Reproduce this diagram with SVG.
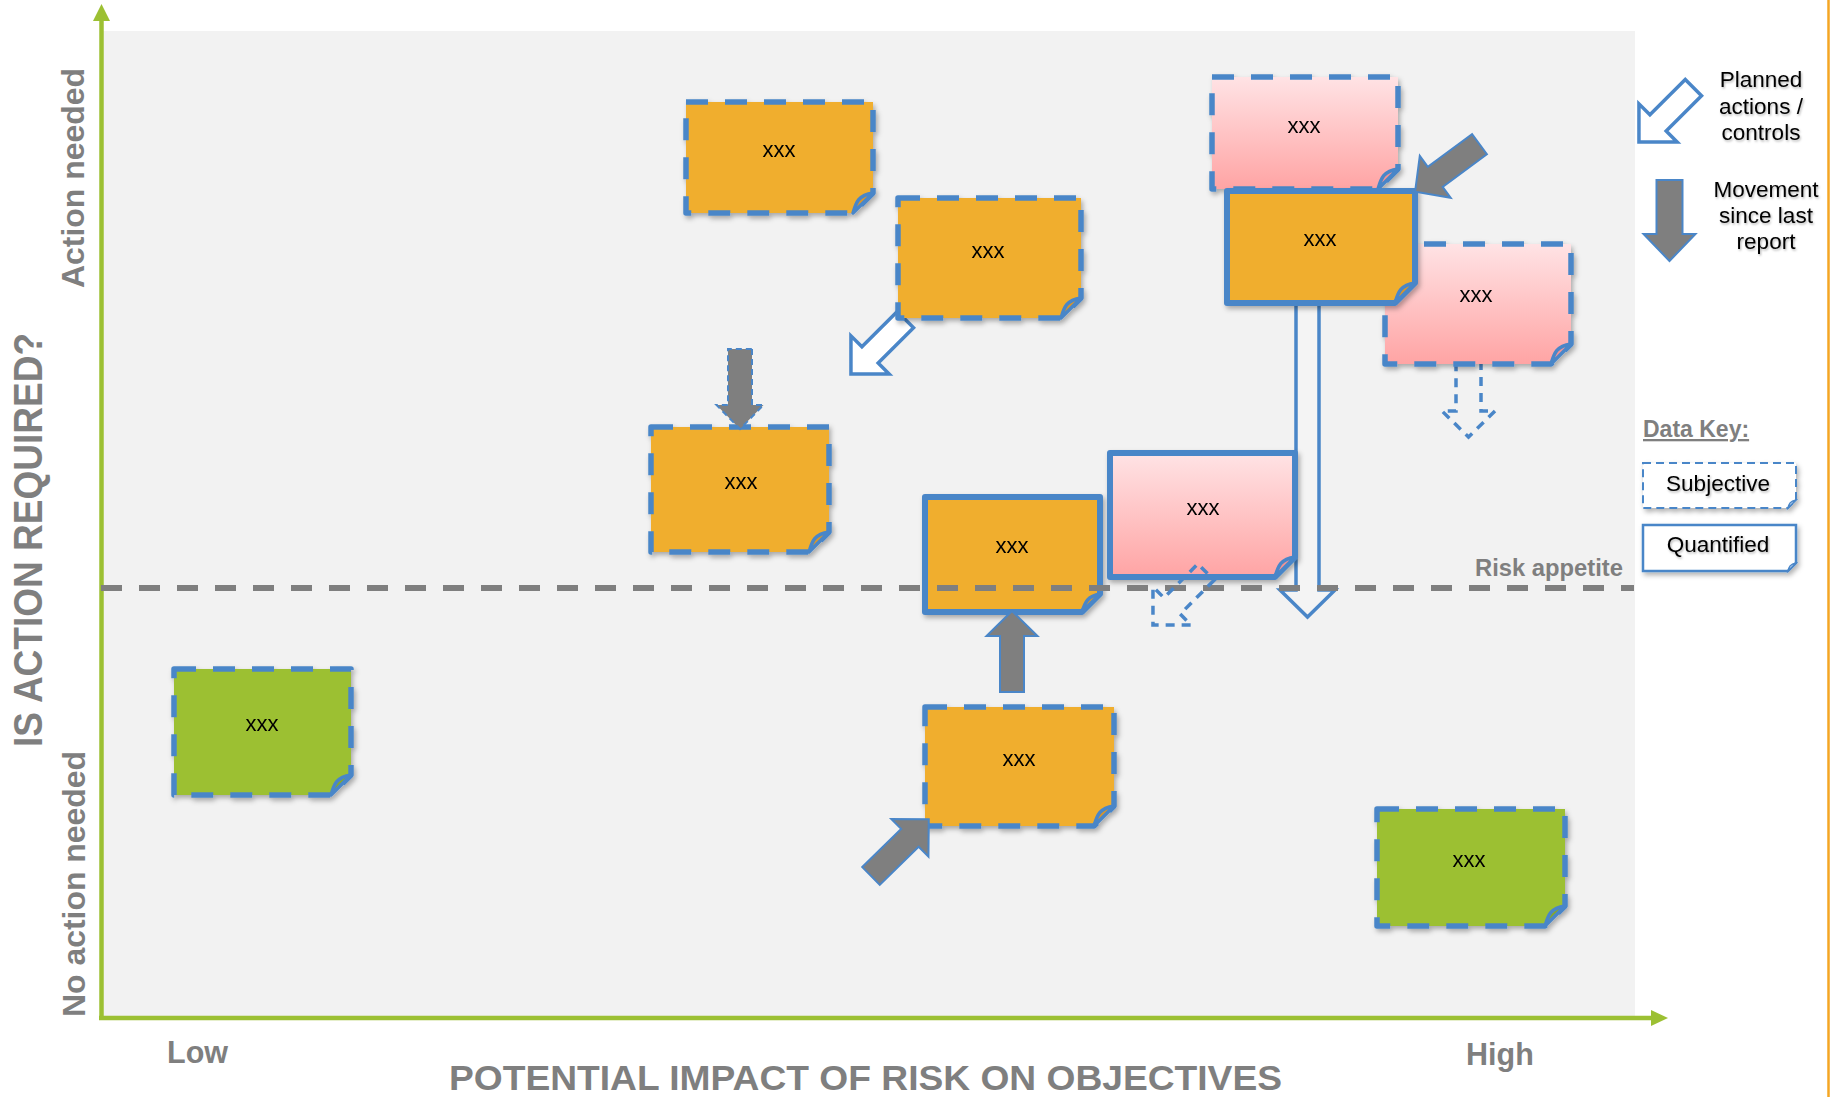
<svg xmlns="http://www.w3.org/2000/svg" width="1833" height="1097" viewBox="0 0 1833 1097">
<defs>
<style>
.xt{font-family:"Liberation Sans",Arial,sans-serif;font-size:22px;fill:#000;text-anchor:middle}
.ax{font-family:"Liberation Sans",Arial,sans-serif;font-weight:bold;fill:#7F7F7F}
.lg{font-family:"Liberation Sans",Arial,sans-serif;font-size:22.5px;fill:#000;text-anchor:middle}
.ds{stroke:#4A86C8;stroke-width:5.5;stroke-dasharray:22 17;stroke-linejoin:round}
.sd{stroke:#4A86C8;stroke-width:6;stroke-linejoin:round}
.fl{stroke:#4A86C8;stroke-width:3.5;stroke-linejoin:round}
.or{fill:#F0AE2F}
.gr{fill:#9CC033}
.pk{fill:url(#pink)}
.orf{fill:#D9962A}
.grf{fill:#86A82A}
.pkf{fill:#F29494}
.mv{fill:#7F7F7F;stroke:#4A86C8;stroke-width:2;stroke-linejoin:miter}
.pl{stroke:#4A86C8;stroke-width:3.5;stroke-linejoin:miter}
</style>
<linearGradient id="pink" x1="0" y1="0" x2="0" y2="1">
<stop offset="0" stop-color="#FFE3E5"/>
<stop offset="1" stop-color="#FFA4A4"/>
</linearGradient>
<filter id="sh" x="-10%" y="-10%" width="125%" height="130%">
<feDropShadow dx="2" dy="3" stdDeviation="2.5" flood-color="#000" flood-opacity="0.3"/>
</filter>
<filter id="tsh" x="-10%" y="-20%" width="125%" height="150%">
<feDropShadow dx="1" dy="1.5" stdDeviation="1.2" flood-color="#000" flood-opacity="0.3"/>
</filter>
</defs>

<rect x="0" y="0" width="1833" height="1097" fill="#FFFFFF"/>
<rect x="103" y="31" width="1532" height="985" fill="#F2F2F2"/>
<line x1="1828.5" y1="0" x2="1828.5" y2="1097" stroke="#F5A623" stroke-width="2.5"/>

<g id="axes">
<line x1="101.5" y1="1018" x2="101.5" y2="20" stroke="#9CC033" stroke-width="4.5"/>
<polygon points="93,21 101.5,4 110,21" fill="#9CC033"/>
<line x1="99" y1="1018" x2="1652" y2="1018" stroke="#9CC033" stroke-width="4.5"/>
<polygon points="1651,1010 1668,1018 1651,1026" fill="#9CC033"/>
</g>

<g id="connectors-under">
<g id="arrow-b" transform="translate(905.4,319.6) rotate(135)"><polygon class="pl" fill="#FFFFFF" points="0,-11.5 50,-11.5 50,-27 77,0 50,27 50,11.5 0,11.5"/></g>
<g id="arrow-d" transform="translate(1307.5,303) rotate(90)"><polygon class="pl" stroke-width="4" fill="#F4F4F4" points="0,-11.5 287,-11.5 287,-27.5 314,0 287,27.5 287,11.5 0,11.5"/></g>
<g id="arrow-e" transform="translate(1468.5,361) rotate(90)"><polygon class="pl" fill="none" stroke-dasharray="9 7" points="0,-12.5 50,-12.5 50,-26.5 76,0 50,26.5 50,12.5 0,12.5"/></g>
</g>

<g id="node-1" filter="url(#sh)">
<path class="or ds" d="M686,102 H873 V193 L853,213 H686 Z"/>
<path class="orf fl" d="M853,213 C856,203 858,195 873,193 Z"/>
<text class="xt" x="779" y="157">xxx</text>
</g>
<g id="node-2" filter="url(#sh)">
<path class="or ds" d="M898,198 H1081 V298 L1061,318 H898 Z"/>
<path class="orf fl" d="M1061,318 C1064,308 1066,300 1081,298 Z"/>
<text class="xt" x="988" y="258">xxx</text>
</g>
<g id="node-3" filter="url(#sh)">
<path class="or ds" d="M651,427 H829 V532 L809,552 H651 Z"/>
<path class="orf fl" d="M809,552 C812,542 814,534 829,532 Z"/>
<text class="xt" x="741" y="489">xxx</text>
</g>
<g id="node-4" filter="url(#sh)">
<path class="gr ds" d="M174,669 H351 V775 L331,795 H174 Z"/>
<path class="grf fl" d="M331,795 C334,785 336,777 351,775 Z"/>
<text class="xt" x="262" y="731">xxx</text>
</g>
<g id="node-10" filter="url(#sh)">
<path class="or ds" d="M925,707 H1114 V806 L1094,826 H925 Z"/>
<path class="orf fl" d="M1094,826 C1097,816 1099,808 1114,806 Z"/>
<text class="xt" x="1019" y="766">xxx</text>
</g>
<g id="node-5" filter="url(#sh)">
<path class="or sd" d="M925,497 H1100 V594 L1082,612 H925 Z"/>
<path class="orf fl" d="M1082,612 C1085,603 1087,596 1100,594 Z"/>
<text class="xt" x="1012" y="553">xxx</text>
</g>
<g id="node-6" filter="url(#sh)">
<path class="pk sd" d="M1110,453 H1295 V557 L1275,577 H1110 Z"/>
<path class="pkf fl" d="M1275,577 C1278,567 1280,559 1295,557 Z"/>
<text class="xt" x="1203" y="515">xxx</text>
</g>
<g id="node-7" filter="url(#sh)">
<path class="pk ds" d="M1212,77 H1398 V169 L1378,189 H1212 Z"/>
<path class="pkf fl" d="M1378,189 C1381,179 1383,171 1398,169 Z"/>
<text class="xt" x="1304" y="133">xxx</text>
</g>
<g id="node-9" filter="url(#sh)">
<path class="pk ds" d="M1385,244 H1571 V344 L1551,364 H1385 Z"/>
<path class="pkf fl" d="M1551,364 C1554,354 1556,346 1571,344 Z"/>
<text class="xt" x="1476" y="302">xxx</text>
</g>
<g id="node-8" filter="url(#sh)">
<path class="or sd" d="M1227,191 H1415 V283 L1395,303 H1227 Z"/>
<path class="orf fl" d="M1395,303 C1398,293 1400,285 1415,283 Z"/>
<text class="xt" x="1320" y="246">xxx</text>
</g>
<g id="node-11" filter="url(#sh)">
<path class="gr ds" d="M1377,809 H1565 V906 L1545,926 H1377 Z"/>
<path class="grf fl" d="M1545,926 C1548,916 1550,908 1565,906 Z"/>
<text class="xt" x="1469" y="867">xxx</text>
</g>

<g id="connectors-over">
<g id="arrow-a" transform="translate(740,349) rotate(90)"><polygon class="mv" stroke-dasharray="6 4" points="0,-12 56,-12 56,-23.5 80,0 56,23.5 56,12 0,12"/></g>
<g id="arrow-g" transform="translate(1012,692) rotate(-90)"><polygon class="mv" points="0,-12 56,-12 56,-25.5 81,0 56,25.5 56,12 0,12"/></g>
<g id="arrow-h" transform="translate(871,876) rotate(-44.5)"><polygon class="mv" points="0,-12.5 54.5,-12.5 54.5,-26.5 81,0 54.5,26.5 54.5,12.5 0,12.5"/></g>
<g id="arrow-c" transform="translate(1479.5,144.2) rotate(143.6)"><polygon class="mv" points="0,-12.5 55,-12.5 55,-26 80,0 55,26 55,12.5 0,12.5"/></g>
</g>

<g id="risk-appetite">
<line x1="101" y1="588" x2="1634" y2="588" stroke="#7F7F7F" stroke-width="6" stroke-dasharray="21 17"/>
<text class="ax" x="1623" y="576" font-size="23.5" text-anchor="end" textLength="148" lengthAdjust="spacingAndGlyphs">Risk appetite</text>
</g>

<g id="arrow-f" transform="translate(1206,572) rotate(135)"><polygon class="pl" fill="none" stroke-dasharray="9 7" points="0,-11.5 48,-11.5 48,-27 75,0 48,27 48,11.5 0,11.5"/></g>

<g id="axis-labels">
<text class="ax" x="42" y="540" font-size="40" text-anchor="middle" transform="rotate(-90 42 540)" textLength="414" lengthAdjust="spacingAndGlyphs">IS ACTION REQUIRED?</text>
<text class="ax" x="84" y="178" font-size="32" text-anchor="middle" transform="rotate(-90 84 178)" textLength="220" lengthAdjust="spacingAndGlyphs">Action needed</text>
<text class="ax" x="85" y="884" font-size="32" text-anchor="middle" transform="rotate(-90 85 884)" textLength="266" lengthAdjust="spacingAndGlyphs">No action needed</text>
<text class="ax" x="167" y="1063" font-size="30.5">Low</text>
<text class="ax" x="1466" y="1065" font-size="30.5">High</text>
<text class="ax" x="449" y="1090" font-size="35" textLength="833" lengthAdjust="spacingAndGlyphs">POTENTIAL IMPACT OF RISK ON OBJECTIVES</text>
</g>

<g id="legend">
<g id="legend-planned">
<g transform="translate(1693.4,87.6) rotate(135)"><polygon class="pl" fill="#FFFFFF" points="0,-11.5 50,-11.5 50,-27 77,0 50,27 50,11.5 0,11.5"/></g>
<text class="lg" filter="url(#tsh)"><tspan x="1761" y="87">Planned</tspan><tspan x="1761" y="113.5">actions /</tspan><tspan x="1761" y="140">controls</tspan></text>
</g>
<g id="legend-movement">
<g transform="translate(1669.5,180) rotate(90)"><polygon class="mv" points="0,-13 54,-13 54,-26 81,0 54,26 54,13 0,13"/></g>
<text class="lg" filter="url(#tsh)"><tspan x="1766" y="197">Movement</tspan><tspan x="1766" y="223">since last</tspan><tspan x="1766" y="249">report</tspan></text>
</g>
<g id="legend-key">
<text class="ax" x="1643" y="437" font-size="23" text-decoration="underline">Data Key:</text>
<g id="key-subjective" filter="url(#sh)">
<path fill="#FFFFFF" stroke="#4A86C8" stroke-width="2" stroke-dasharray="8 5" d="M1643,463 H1796 V500 L1788,508 H1643 Z"/>
<path fill="#DDE8F4" stroke="#4A86C8" stroke-width="1.5" d="M1788,508 C1789,504 1790,501 1796,500 Z"/>
<text class="lg" x="1718" y="491" filter="url(#tsh)">Subjective</text>
</g>
<g id="key-quantified" filter="url(#sh)">
<path fill="#FFFFFF" stroke="#4A86C8" stroke-width="2.5" d="M1643,525 H1796 V563 L1788,571 H1643 Z"/>
<path fill="#DDE8F4" stroke="#4A86C8" stroke-width="1.5" d="M1788,571 C1789,567 1790,564 1796,563 Z"/>
<text class="lg" x="1718" y="552" filter="url(#tsh)">Quantified</text>
</g>
</g>
</g>
</svg>
